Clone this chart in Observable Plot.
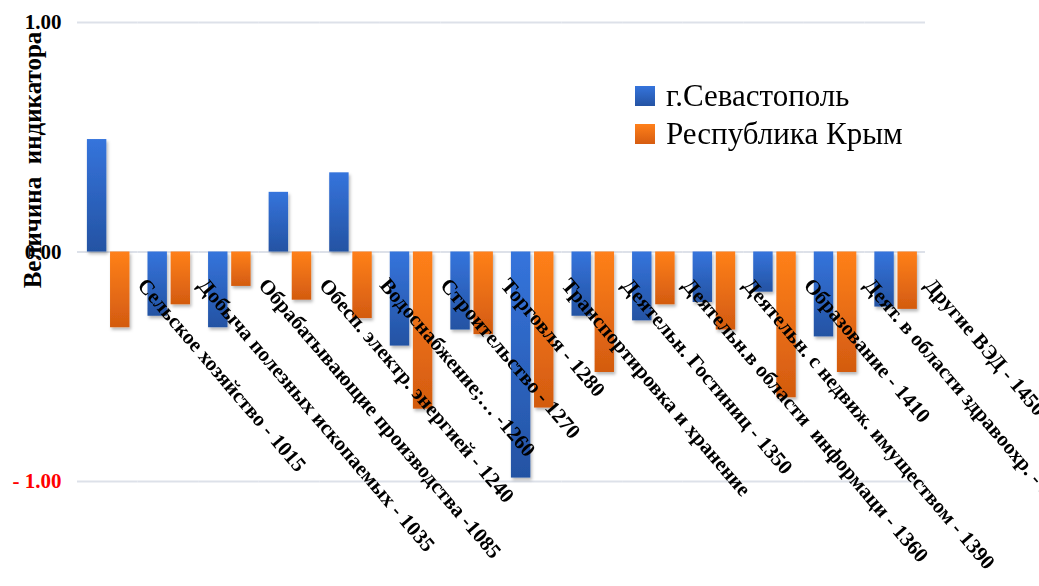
<!DOCTYPE html>
<html><head><meta charset="utf-8">
<script src="https://cdn.jsdelivr.net/npm/d3@7"></script>
<script src="https://cdn.jsdelivr.net/npm/@observablehq/plot@0.6"></script>
<style>
html,body{margin:0;padding:0;background:#fff;overflow:hidden;}
#wrap{position:relative;width:1039px;height:586px;overflow:hidden;}
#wrap svg{position:absolute;left:0;top:0;overflow:visible;}
.ytitle{position:absolute;left:33px;top:160px;transform:translate(-50%,-50%) rotate(-90deg);white-space:pre;font:bold 25px "Liberation Serif","Times New Roman",serif;color:#000;}
.legend{position:absolute;left:635px;top:77px;font:31px "Liberation Serif","Times New Roman",serif;color:#000;}
.legend div{display:flex;align-items:center;height:38px;}
.legend span.sw{display:inline-block;width:20px;height:20px;margin-right:11px;}
</style></head><body><div id="wrap"></div>
<script>
const categories = [
  "Сельское хозяйство - 1015",
  "Добыча полезных ископаемых - 1035",
  "Обрабатывающие производства -1085",
  "Обесп. электр. энергией - 1240",
  "Водоснабжение;… -1260",
  "Строительство - 1270",
  "Торговля - 1280",
  "Транспортировка и хранение",
  "Деятельн. Гостиниц - 1350",
  "Деятельн.в области  информаци - 1360",
  "Деятельн. с недвиж. имуществом - 1390",
  "Образование - 1410",
  "Деят. в области здравоохр. - 1430",
  "Другие ВЭД - 1450"
];
const series = ["г.Севастополь", "Республика Крым"];
const sevastopol = [0.49, -0.28, -0.33, 0.26, 0.345, -0.41, -0.34, -0.985, -0.28, -0.30, -0.22, -0.175, -0.37, -0.24];
const crimea = [-0.33, -0.23, -0.15, -0.21, -0.29, -0.685, -0.36, -0.68, -0.525, -0.23, -0.34, -0.635, -0.525, -0.25];
const yTicks = [-1, 0, 1];
const yTickLabels = ["- 1.00", "0.00", "1.00"];
const yTitle = "Величина  индикатора";

const rows = [];
categories.forEach((c, i) => {
  rows.push({cat: c, s: series[0], v: sevastopol[i]});
  rows.push({cat: c, s: series[1], v: crimea[i]});
});
const fills = {[series[0]]: "url(#gBlue)", [series[1]]: "url(#gOrange)"};
const legendColors = {[series[0]]: "linear-gradient(#3574dc,#2453a3)", [series[1]]: "linear-gradient(#ff801a,#d65c10)"};

const svg = Plot.plot({
  width: 1039,
  height: 586,
  marginLeft: 77,
  marginRight: 114,
  marginTop: 22,
  marginBottom: 105,
  style: {background: "transparent", overflow: "visible"},
  fx: {domain: categories, padding: 0, round: false, axis: null},
  x: {domain: series, paddingInner: 0.16, paddingOuter: 0.39, align: 0.55, round: false, axis: null},
  y: {domain: [-1, 1], ticks: yTicks, tickFormat: d => yTickLabels[yTicks.indexOf(d)], tickSize: 0, tickPadding: 16, label: null},
  marks: [
    Plot.ruleY(yTicks, {stroke: "#dde1e9", strokeWidth: 2}),
    Plot.barY(rows.filter(d => d.s === series[0]), {fx: "cat", x: "s", y: "v", fill: fills[series[0]]}),
    Plot.barY(rows.filter(d => d.s === series[1]), {fx: "cat", x: "s", y: "v", fill: fills[series[1]]}),
    Plot.text(categories, {fx: d => d, y: () => 0, text: d => d, rotate: 49.5, textAnchor: "start", lineAnchor: "top", dx: 40, dy: 24, fontSize: 21, fontWeight: "bold", fill: "#000"})
  ]
});

const s = d3.select(svg);
s.style("font-family", "'Liberation Serif','Times New Roman',serif");
const defs = s.insert("defs", ":first-child");
const gb = defs.append("linearGradient").attr("id", "gBlue").attr("x1", 0).attr("y1", 0).attr("x2", 0).attr("y2", 1);
gb.append("stop").attr("offset", "0%").attr("stop-color", "#3574dc");
gb.append("stop").attr("offset", "100%").attr("stop-color", "#2453a3");
const go = defs.append("linearGradient").attr("id", "gOrange").attr("x1", 0).attr("y1", 0).attr("x2", 0).attr("y2", 1);
go.append("stop").attr("offset", "0%").attr("stop-color", "#ff801a");
go.append("stop").attr("offset", "100%").attr("stop-color", "#d35b10");
const f = defs.append("filter").attr("id", "shadow").attr("x", "-30%").attr("y", "-10%").attr("width", "160%").attr("height", "130%");
f.append("feDropShadow").attr("dx", 1.5).attr("dy", 2.5).attr("stdDeviation", 1.8).attr("flood-color", "#000").attr("flood-opacity", 0.28);
s.selectAll("g[aria-label='bar']").attr("filter", "url(#shadow)");
s.selectAll("g[aria-label='y-axis tick label'] text, g[aria-label='y-axis'] text").each(function(){
  const t = d3.select(this);
  t.attr("font-weight", "bold").attr("font-size", 21);
  if (t.text().startsWith("-")) t.attr("fill", "#ff0000");
});
s.selectAll("g[aria-label='y-axis tick label'], g[aria-label='y-axis']").attr("font-size", 21).attr("font-weight", "bold");

const wrap = document.getElementById("wrap");
wrap.appendChild(svg);
const yt = document.createElement("div");
yt.className = "ytitle";
yt.textContent = yTitle;
wrap.appendChild(yt);
const lg = document.createElement("div");
lg.className = "legend";
series.forEach(sr => {
  const row = document.createElement("div");
  const sw = document.createElement("span");
  sw.className = "sw";
  sw.style.background = legendColors[sr];
  row.appendChild(sw);
  row.appendChild(document.createTextNode(sr));
  lg.appendChild(row);
});
wrap.appendChild(lg);
</script></body></html>
